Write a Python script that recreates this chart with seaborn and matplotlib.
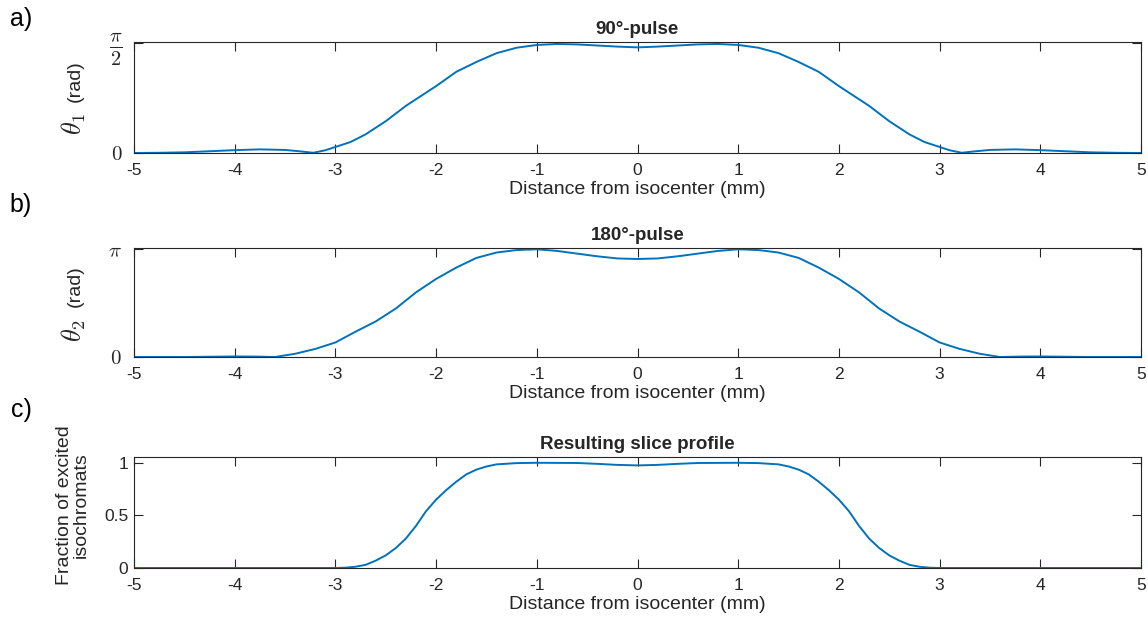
import numpy as np
import matplotlib
matplotlib.use("Agg")
import matplotlib.pyplot as plt
import seaborn as sns
import pandas as pd

# ---------------- data ----------------
x_a = [-5.0, -4.75, -4.5, -4.25, -4.0, -3.75, -3.5, -3.35, -3.22, -3.1, -3.0, -2.85,
       -2.7, -2.5, -2.3, -2.1, -2.0, -1.8, -1.6, -1.4, -1.2, -1.0, -0.8, -0.6, -0.4,
       -0.2, 0.0, 0.2, 0.4, 0.6, 0.8, 1.0, 1.2, 1.4, 1.6, 1.8, 2.0, 2.1, 2.3, 2.5, 2.7,
       2.85, 3.0, 3.1, 3.22, 3.35, 3.5, 3.75, 4.0, 4.25, 4.5, 4.75, 5.0]
# theta_1 as a fraction of pi/2
theta1_frac = [0.0, 0.002, 0.006, 0.016, 0.026, 0.033, 0.028, 0.015, 0.002, 0.025, 0.055, 0.10,
               0.17, 0.29, 0.43, 0.55, 0.61, 0.74, 0.83, 0.91, 0.96, 0.985, 0.994, 0.99, 0.98,
               0.97, 0.963, 0.97, 0.98, 0.99, 0.994, 0.985, 0.96, 0.91, 0.83, 0.74, 0.61, 0.55,
               0.43, 0.29, 0.17, 0.10, 0.055, 0.025, 0.002, 0.015, 0.028, 0.033, 0.026, 0.016,
               0.006, 0.002, 0.0]

x_b = [-5.0, -4.5, -4.0, -3.8, -3.6, -3.4, -3.2, -3.0, -2.8, -2.6, -2.4, -2.2, -2.0, -1.8,
       -1.6, -1.4, -1.2, -1.0, -0.8, -0.6, -0.4, -0.2, 0.0, 0.2, 0.4, 0.6, 0.8, 1.0, 1.2,
       1.4, 1.6, 1.8, 2.0, 2.2, 2.4, 2.6, 2.8, 3.0, 3.2, 3.4, 3.6, 3.8, 4.0, 4.5, 5.0]
# theta_2 as a fraction of pi
theta2_frac = [0.0, 0.0, 0.005, 0.004, 0.0, 0.03, 0.075, 0.135, 0.235, 0.33, 0.45, 0.60, 0.725,
               0.83, 0.92, 0.97, 0.993, 1.0, 0.985, 0.96, 0.935, 0.915, 0.91, 0.915, 0.935,
               0.96, 0.985, 1.0, 0.993, 0.97, 0.92, 0.83, 0.725, 0.60, 0.45, 0.33, 0.235,
               0.135, 0.075, 0.03, 0.0, 0.004, 0.005, 0.0, 0.0]

x_c = [-5.0, -4.0, -3.0, -2.9, -2.8, -2.7, -2.6, -2.5, -2.4, -2.3, -2.2, -2.1, -2.0, -1.9,
       -1.8, -1.7, -1.6, -1.5, -1.4, -1.2, -1.0, -0.6, -0.4, -0.2, 0.0, 0.2, 0.4, 0.6,
       1.0, 1.2, 1.4, 1.5, 1.6, 1.7, 1.8, 1.9, 2.0, 2.1, 2.2, 2.3, 2.4, 2.5, 2.6, 2.7,
       2.8, 2.9, 3.0, 4.0, 5.0]
fraction = [0.0, 0.0, 0.0, 0.003, 0.012, 0.03, 0.07, 0.12, 0.19, 0.28, 0.40, 0.54, 0.65, 0.74,
            0.82, 0.89, 0.935, 0.965, 0.985, 0.997, 1.0, 0.998, 0.99, 0.98, 0.975, 0.98, 0.99,
            0.998, 1.0, 0.997, 0.985, 0.965, 0.935, 0.89, 0.82, 0.74, 0.65, 0.54, 0.40, 0.28,
            0.19, 0.12, 0.07, 0.03, 0.012, 0.003, 0.0, 0.0, 0.0]

x_ticks = [-5, -4, -3, -2, -1, 0, 1, 2, 3, 4, 5]
titles = ["90°-pulse", "180°-pulse", "Resulting slice profile"]
panel_labels = ["a)", "b)", "c)"]

# ---------------- style ----------------
sns.set_style("ticks")
plt.rcParams.update({
    "font.family": ["Liberation Sans", "DejaVu Sans"],
    "mathtext.fontset": "cm",
    "axes.unicode_minus": False,
    "axes.edgecolor": "#262626",
    "axes.linewidth": 0.8,
    "xtick.color": "#262626",
    "ytick.color": "#262626",
    "xtick.direction": "in",
    "ytick.direction": "in",
    "xtick.top": True,
    "ytick.right": True,
    "xtick.major.size": 6.5,
    "ytick.major.size": 6.5,
    "xtick.major.width": 0.8,
    "ytick.major.width": 0.8,
})

TXT = "#262626"
line_color = "#0072BD"
fig = plt.figure(figsize=(11.48, 6.21), dpi=100)
left, width = 134 / 1148, 1007 / 1148
ax1 = fig.add_axes([left, 1 - 153 / 621, width, 111 / 621])
ax2 = fig.add_axes([left, 1 - 357 / 621, width, 109 / 621])
ax3 = fig.add_axes([left, 1 - 568 / 621, width, 111 / 621])

df_a = pd.DataFrame({"x": x_a, "y": np.array(theta1_frac) * np.pi / 2})
df_b = pd.DataFrame({"x": x_b, "y": np.array(theta2_frac) * np.pi})
df_c = pd.DataFrame({"x": x_c, "y": fraction})

for ax, df in zip([ax1, ax2, ax3], [df_a, df_b, df_c]):
    sns.lineplot(data=df, x="x", y="y", ax=ax, color=line_color, linewidth=1.4)
    ax.set_xlim(-5, 5)
    ax.set_xticks(x_ticks)
    ax.set_xticklabels([str(t) for t in x_ticks], fontsize=12.5, color=TXT)
    ax.tick_params(axis="x", pad=7.5)
    ax.set_xlabel("Distance from isocenter (mm)", fontsize=14, color=TXT, labelpad=2)
    ax.set_ylabel("")
    for s in ax.spines.values():
        s.set_visible(True)

ax1.set_ylim(0, np.pi / 2 * 1.012)
ax1.set_yticks([0, np.pi / 2])
ax1.set_yticklabels([r"$0$", r"$\frac{\pi}{2}$"])
ax1.get_yticklabels()[0].set_fontsize(15)
ax1.get_yticklabels()[1].set_fontsize(21)
ax1.tick_params(axis="y", pad=8)

ax2.set_ylim(0, np.pi * 1.012)
ax2.set_yticks([0, np.pi])
ax2.set_yticklabels([r"$0$", r"$\pi$"], fontsize=15)
ax2.tick_params(axis="y", pad=9)

ax3.set_ylim(0, 1.055)
ax3.set_yticks([0, 0.5, 1])
ax3.set_yticklabels(["0", "0.5", "1"], fontsize=12.5, color=TXT)
ax3.tick_params(axis="y", pad=4)
ax3.set_ylabel("Fraction of excited\nisochromats", fontsize=14, color=TXT, linespacing=1.0)
ax3.yaxis.set_label_coords(-0.044, 0.57)

# y labels of panels a and b: big theta with subscript, then "(rad)"
for ax, sym, sym_y, rad_y in [(ax1, r"$\theta_{\mathsf{1}}$", 124, 81),
                              (ax2, r"$\theta_{\mathsf{2}}$", 331, 286)]:
    fig.text(74 / 1148, 1 - sym_y / 621, sym, fontsize=19, rotation=90,
             ha="center", va="center", color=TXT)
    fig.text(75 / 1148, 1 - rad_y / 621, "(rad)", fontsize=14, rotation=90,
             ha="center", va="center", color=TXT)

for ax, t in zip([ax1, ax2, ax3], titles):
    ax.set_title(t, fontsize=13.5, fontweight="bold", pad=6)

for lab, y in zip(panel_labels, [19, 205, 410]):
    fig.text(21 / 1148, 1 - y / 621, lab, fontsize=18, ha="center", va="center", color="#000000")

fig.savefig("out.png", dpi=100)
